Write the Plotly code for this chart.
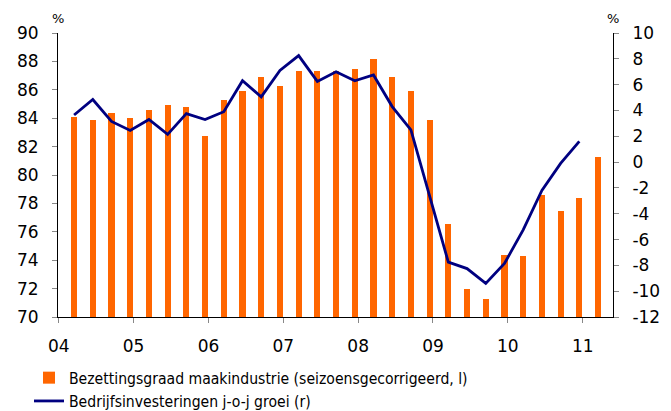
import plotly.graph_objects as go

# Quarterly data 2004Q1 ..
tick_labels = ["04", "05", "06", "07", "08", "09", "10", "11"]
right_ticks = [-12, -10, -8, -6, -4, -2, 0, 2, 4, 6, 8, 10]

capacity_util = [84.1, 83.9, 84.4, 84.0, 84.6, 84.9, 84.8, 82.75,
                 85.3, 85.9, 86.9, 86.3, 87.3, 87.3, 87.35, 87.45,
                 88.2, 86.9, 85.9, 83.9, 76.55, 72.0, 71.25, 74.35,
                 74.3, 78.6, 77.45, 78.4, 81.3]

investment_growth = [3.65, 4.85, 3.15, 2.45, 3.3, 2.15, 3.75, 3.3,
                     3.9, 6.3, 5.05, 7.1, 8.25, 6.25, 7.0, 6.3,
                     6.75, 4.3, 2.5, -2.7, -7.75, -8.25, -9.4, -7.85,
                     -5.25, -2.2, -0.1, 1.6]

name_bar = "Bezettingsgraad maakindustrie (seizoensgecorrigeerd, l)"
name_line = "Bedrijfsinvesteringen j-o-j groei (r)"

xb = list(range(len(capacity_util)))
xl = list(range(len(investment_growth)))
tickpos = [-0.82 + 4 * k for k in range(len(tick_labels))]

W, H = 663, 403

fig = go.Figure()
fig.add_trace(go.Bar(x=xb, y=capacity_util, name=name_bar,
                     marker=dict(color="#FF6600", line=dict(width=0)),
                     width=0.33, yaxis="y"))
fig.add_trace(go.Scatter(x=xl, y=investment_growth, name=name_line,
                         mode="lines", line=dict(color="#000080", width=2.8),
                         yaxis="y2"))

tickfont = dict(family="DejaVu Sans", size=17, color="#000000")
fig.update_layout(
    width=W, height=H,
    margin=dict(l=50, r=58, t=25, b=94, autoexpand=False),
    paper_bgcolor="white", plot_bgcolor="white",
    showlegend=True,
    legend=dict(orientation="v", x=21 / W, y=-0.155, xanchor="left", yanchor="top",
                xref="container", yref="paper",
                font=dict(family="DejaVu Sans Condensed, DejaVu Sans", size=15.6, color="#000000"),
                tracegroupgap=0, itemwidth=30, bgcolor="rgba(0,0,0,0)"),
    xaxis=dict(range=[-0.86, 28.8], tickmode="array", tickvals=tickpos,
               ticktext=tick_labels, ticks="outside", ticklen=5, tickcolor="#888888",
               showline=True, linecolor="#000000", linewidth=1, showgrid=False,
               zeroline=False, tickfont=tickfont, ticklabelstandoff=9),
    yaxis=dict(range=[70, 90], dtick=2, tick0=70, ticks="outside", ticklen=5,
               tickcolor="#888888", showline=True, linecolor="#000000", linewidth=1,
               showgrid=False, zeroline=False, tickfont=tickfont, ticklabelstandoff=10),
    yaxis2=dict(range=[-12, 10], tickmode="array", tickvals=right_ticks,
                ticktext=[str(v) for v in right_ticks], overlaying="y", side="right",
                ticks="outside", ticklen=5, tickcolor="#888888", showline=True,
                linecolor="#000000", linewidth=1, showgrid=False, zeroline=False,
                tickfont=tickfont, ticklabelstandoff=10),
    bargap=0,
    annotations=[
        dict(text="%", x=0, y=1.0, xref="paper", yref="paper", xanchor="center",
             yanchor="bottom", yshift=5, showarrow=False,
             font=dict(family="DejaVu Sans", size=13, color="#000000")),
        dict(text="%", x=1, y=1.0, xref="paper", yref="paper", xanchor="center",
             yanchor="bottom", yshift=5, showarrow=False,
             font=dict(family="DejaVu Sans", size=13, color="#000000")),
    ],
)

fig.write_html("out.html")
